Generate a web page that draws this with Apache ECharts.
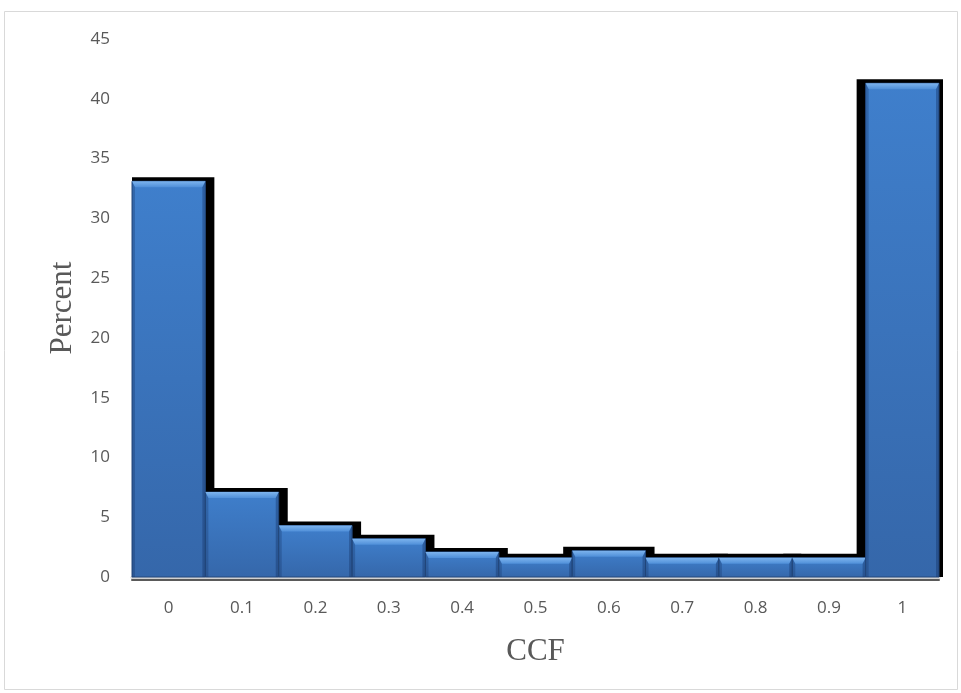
<!DOCTYPE html>
<html><head><meta charset="utf-8">
<script src="https://cdn.jsdelivr.net/npm/echarts@6/dist/echarts.min.js"></script>
<style>html,body{margin:0;padding:0;background:#fff}#c{width:961px;height:693px}</style>
</head><body><div id="c"></div>
<script>
var categories = ['0','0.1','0.2','0.3','0.4','0.5','0.6','0.7','0.8','0.9','1'];
var percentValues = [33.1, 7.1, 4.3, 3.2, 2.1, 1.6, 2.2, 1.6, 1.6, 1.6, 41.3];
var yTicks = {min: 0, max: 45, interval: 5};

var chart = echarts.init(document.getElementById('c'), null, {renderer: 'canvas'});

function shadowItem(params, api) {
  var idx = api.value(0), v = api.value(1);
  var p0 = api.coord([idx, 0]);
  var p1 = api.coord([idx, v]);
  var w = api.size([1, 0])[0];
  var cs = params.coordSys;
  var left = Math.max(p0[0] - w / 2 - 9, cs.x);
  var right = Math.min(p0[0] + w / 2 + 9, cs.x + cs.width + 4);
  var top = p1[1] - 4;
  return {type: 'rect', shape: {x: left, y: top, width: right - left, height: p0[1] - top},
          style: {fill: '#000000'}, z2: 1};
}

function barItem(params, api) {
  var idx = api.value(0), v = api.value(1);
  var p0 = api.coord([idx, 0]);
  var p1 = api.coord([idx, v]);
  var w = api.size([1, 0])[0];
  var l = p0[0] - w / 2, r = p0[0] + w / 2, t = p1[1], b = p0[1];
  var bev = Math.min(6, (b - t) / 2);
  var side = 3;
  return {
    type: 'group',
    children: [
      {type: 'rect', shape: {x: l, y: t, width: r - l, height: b - t},
       style: {fill: new echarts.graphic.LinearGradient(0, 0, 0, 1, [
         {offset: 0, color: '#3f7fcc'}, {offset: 1, color: '#3567aa'}]),
         stroke: '#24497d', lineWidth: 1}},
      {type: 'polygon', shape: {points: [[l, t], [r, t], [r - side, t + bev], [l + side, t + bev]]},
       style: {fill: new echarts.graphic.LinearGradient(0, 0, 0, 1, [
         {offset: 0, color: '#7db4ee'}, {offset: 1, color: '#4f8fd9'}])}},
      {type: 'polygon', shape: {points: [[l, t], [l + side, t + bev], [l + side, b], [l, b]]},
       style: {fill: 'rgba(20,50,100,0.3)'}},
      {type: 'polygon', shape: {points: [[r, t], [r - side, t + bev], [r - side, b], [r, b]]},
       style: {fill: 'rgba(20,50,100,0.4)'}}
    ]
  };
}

var seriesData = percentValues.map(function (v, i) { return [i, v]; });

chart.setOption({
  backgroundColor: '#ffffff',
  animation: false,
  graphic: [{type: 'rect', shape: {x: 4.5, y: 11.5, width: 953, height: 678},
             style: {fill: 'none', stroke: '#d9d9d9', lineWidth: 1}, silent: true}],
  grid: {left: 132, right: 22, top: 39, bottom: 116},
  xAxis: [{
    type: 'category', data: categories, boundaryGap: true,
    axisLine: {show: true, lineStyle: {color: '#d2d2d2', width: 3}},
    axisTick: {show: false},
    axisLabel: {color: '#595959', fontSize: 17, fontFamily: 'Open Sans', margin: 23},
    name: 'CCF', nameLocation: 'middle', nameGap: 59,
    nameTextStyle: {color: '#595959', fontSize: 31, fontFamily: 'Liberation Serif'}
  }, {
    type: 'category', data: categories, position: 'bottom', offset: 3,
    axisLine: {show: true, lineStyle: {color: '#5a5a5a', width: 2}},
    axisTick: {show: false}, axisLabel: {show: false}
  }],
  yAxis: {
    type: 'value', min: yTicks.min, max: yTicks.max, interval: yTicks.interval,
    axisLine: {show: false}, axisTick: {show: false}, splitLine: {show: false},
    axisLabel: {color: '#595959', fontSize: 17, fontFamily: 'Open Sans', margin: 22},
    name: 'Percent', nameLocation: 'middle', nameGap: 54,
    nameTextStyle: {color: '#595959', fontSize: 31, fontFamily: 'Liberation Serif'}
  },
  series: [
    {type: 'custom', renderItem: shadowItem, data: seriesData, z: 1, silent: true},
    {type: 'custom', renderItem: barItem, data: seriesData, z: 2}
  ]
});
</script></body></html>
